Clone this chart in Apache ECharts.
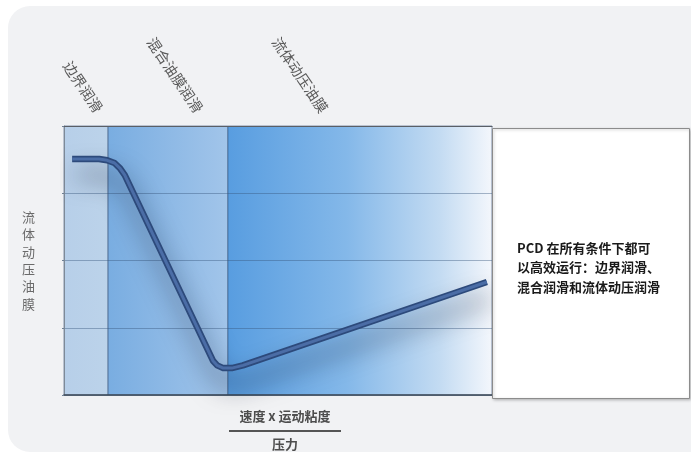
<!DOCTYPE html>
<html>
<head>
<meta charset="utf-8">
<script src="https://cdn.jsdelivr.net/npm/echarts@6/dist/echarts.min.js"></script>
<style>
html,body{margin:0;padding:0;background:#ffffff;}
#chart{width:691px;height:457px;}
</style>
</head>
<body>
<div id="chart"></div>
<script>
// ---- data ----
const xMin = 0, xMax = 10, yMin = 0, yMax = 4;
const bandEdges = [0, 1.03, 3.83, 10];
const regionLabels = ['边界润滑', '混合油膜润滑', '流体动压油膜'];
const curveX = [0.19, 0.82, 1.01, 1.18, 1.31, 1.42, 3.48, 3.58, 3.72, 3.92, 4.18, 9.88];
const curveY = [3.51, 3.51, 3.49, 3.45, 3.37, 3.27, 0.51, 0.44, 0.40, 0.40, 0.44, 1.68];
const yName = '流体动压油膜';
const xNameTop = '速度 x 运动粘度';
const xNameBottom = '压力';
const noteLines = ['PCD 在所有条件下都可', '以高效运行：边界润滑、', '混合润滑和流体动压润滑'];

const FONT = '"Noto Sans CJK SC", "Noto Sans", sans-serif';
const chart = echarts.init(document.getElementById('chart'), null, {renderer: 'canvas'});

const bandFills = [
  new echarts.graphic.LinearGradient(0, 0, 1, 0, [
    {offset: 0, color: '#b7cfe9'}, {offset: 1, color: '#bcd3ea'}]),
  new echarts.graphic.LinearGradient(0, 0, 1, 0, [
    {offset: 0, color: '#79ade1'}, {offset: 1, color: '#a2c5ea'}]),
  new echarts.graphic.LinearGradient(0, 0, 1, 0, [
    {offset: 0, color: '#589de0'}, {offset: 0.45, color: '#84b8e9'},
    {offset: 0.8, color: '#c3dbf2'}, {offset: 1, color: '#f4f7fc'}])
];

const bandData = [];
for (let i = 0; i < bandEdges.length - 1; i++) bandData.push([bandEdges[i], bandEdges[i + 1], i]);
const curveData = curveX.map((x, i) => [x, curveY[i]]);

const graphics = [
  {type: 'rect', z: -100, shape: {x: 8, y: 6, width: 730, height: 446, r: 22}, style: {fill: '#f1f2f4'}},
  {type: 'rect', z: 10, shape: {x: 492.5, y: 128.5, width: 197, height: 270},
    style: {fill: '#ffffff', stroke: '#8c8c8c', lineWidth: 1, shadowBlur: 3, shadowOffsetX: 1, shadowOffsetY: 1, shadowColor: 'rgba(0,0,0,0.25)'}},
  {type: 'text', z: 11, x: 285, y: 416, style: {text: xNameTop, font: 'bold 13px ' + FONT, fill: '#4d4d4d', align: 'center', verticalAlign: 'middle'}},
  {type: 'line', z: 11, shape: {x1: 229, y1: 431, x2: 341, y2: 431}, style: {stroke: '#555555', lineWidth: 2}},
  {type: 'text', z: 11, x: 285, y: 444, style: {text: xNameBottom, font: 'bold 13px ' + FONT, fill: '#4d4d4d', align: 'center', verticalAlign: 'middle'}}
];
const labelPos = [[83, 87], [175, 75], [300, 75]];
regionLabels.forEach((t, i) => {
  graphics.push({type: 'text', z: 11, x: labelPos[i][0], y: labelPos[i][1], rotation: -56 * Math.PI / 180,
    style: {text: t, font: '14.5px ' + FONT, fill: '#5a5a5a', align: 'center', verticalAlign: 'middle'}});
});
noteLines.forEach((t, i) => {
  graphics.push({type: 'text', z: 12, x: 517, y: 248 + i * 19.5,
    style: {text: t, font: 'bold 13px ' + FONT, fill: '#1a1a1a', align: 'left', verticalAlign: 'middle'}});
});

const option = {
  animation: false,
  backgroundColor: '#ffffff',
  grid: {left: 64, top: 126, width: 428, height: 269},
  xAxis: [
    {type: 'value', min: xMin, max: xMax, position: 'bottom', z: 3,
      axisLine: {show: true, lineStyle: {color: '#3f4b58', width: 1.5}},
      axisTick: {show: false}, axisLabel: {show: false}, splitLine: {show: false}},
    {type: 'value', min: xMin, max: xMax, position: 'top', z: 3,
      axisLine: {show: true, lineStyle: {color: '#5a5f66', width: 1}},
      axisTick: {show: false}, axisLabel: {show: false}, splitLine: {show: false}}
  ],
  yAxis: {
    type: 'value', min: yMin, max: yMax, interval: 1, z: 3,
    name: yName.split('').join('\n'), nameLocation: 'middle', nameGap: 29, nameRotate: 0,
    nameTextStyle: {fontFamily: FONT, fontSize: 13, lineHeight: 17.3, color: '#6a6a6a'},
    axisLine: {show: true, lineStyle: {color: '#7d8a98', width: 1}},
    axisTick: {show: true, length: 2, lineStyle: {color: '#6f8094'}},
    axisLabel: {show: false},
    splitLine: {show: true, lineStyle: {color: 'rgba(55,85,125,0.42)', width: 1}}
  },
  graphic: graphics,
  series: [
    {
      type: 'custom', z: 1, data: bandData, encode: {x: [0, 1], y: 2}, silent: true,
      renderItem: function (params, api) {
        const x0 = api.value(0), x1 = api.value(1), idx = api.value(2);
        const p0 = api.coord([x0, yMax]);
        const p1 = api.coord([x1, yMin]);
        return {type: 'rect', shape: {x: p0[0], y: p0[1], width: p1[0] - p0[0], height: p1[1] - p0[1]},
          style: {fill: bandFills[idx], stroke: 'rgba(45,75,115,0.55)', lineWidth: 1}};
      }
    },
    {
      type: 'line', z: 5, data: curveData, showSymbol: false, symbol: 'none', smooth: false, clip: false, silent: true,
      lineStyle: {width: 6.5, color: '#2d4a7b', cap: 'butt', join: 'round',
        shadowColor: 'rgba(10,18,40,0.62)', shadowBlur: 24, shadowOffsetX: 4, shadowOffsetY: 16}
    },
    {
      type: 'line', z: 6, data: curveData, showSymbol: false, symbol: 'none', smooth: false, clip: false, silent: true,
      lineStyle: {width: 3, color: '#4b6da6', cap: 'butt', join: 'round'}
    }
  ]
};
chart.setOption(option);
</script>
</body>
</html>
